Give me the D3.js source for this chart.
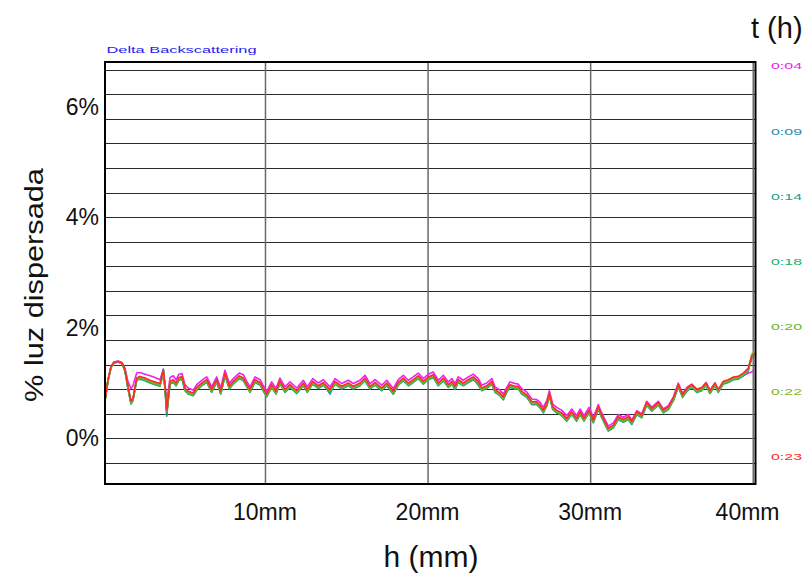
<!DOCTYPE html>
<html>
<head>
<meta charset="utf-8">
<script src="https://cdn.jsdelivr.net/npm/d3@7"></script>
<style>
  body { margin: 0; background: #fff; }
  svg { display: block; font-family: Arial, "Liberation Sans", sans-serif; }
</style>
</head>
<body>
<svg id="chart" width="808" height="574"></svg>
<script>
// Sample height along the tube (mm)
const hMm = [
  0.16,0.34,0.53,0.71,0.96,1.21,1.39,1.57,1.76,1.88,
  2.11,2.31,2.62,2.93,3.24,3.54,3.75,3.85,3.96,4.07,
  4.16,4.36,4.53,4.71,4.90,5.08,5.28,5.59,5.80,6.00,
  6.21,6.42,6.72,7.03,7.28,7.54,7.81,8.05,8.42,8.67,
  8.88,9.08,9.39,9.70,9.90,10.11,10.41,10.68,10.92,11.23,
  11.54,11.95,12.36,12.60,12.94,13.28,13.59,14.00,14.31,14.72,
  15.13,15.43,15.85,16.15,16.46,16.77,17.18,17.49,17.89,18.20,
  18.51,18.82,19.12,19.43,19.74,20.05,20.35,20.66,20.97,21.28,
  21.50,21.69,21.89,22.20,22.51,22.81,23.12,23.33,23.64,23.95,
  24.15,24.46,24.66,24.87,25.07,25.38,25.58,25.79,26.10,26.41,
  26.71,26.92,27.12,27.33,27.49,27.70,27.94,28.25,28.56,28.87,
  29.17,29.38,29.62,29.93,30.20,30.50,30.67,30.91,31.12,31.43,
  31.73,32.04,32.35,32.56,32.87,33.17,33.48,33.79,34.19,34.50,
  34.81,35.12,35.42,35.69,35.98,36.25,36.56,36.86,37.13,37.37,
  37.68,37.88,38.19,38.50,38.81,39.11,39.42,39.73,39.94,40.08
];

// Delta backscattering (%) for each scan time
const bs0004 = [
  0.69,1.05,1.30,1.38,1.40,1.37,1.27,1.03,0.90,0.95,
  1.18,1.19,1.16,1.13,1.10,1.06,1.25,0.99,0.68,0.90,
  1.10,1.13,1.06,1.16,1.17,0.97,0.91,0.87,0.97,1.02,
  1.07,1.11,0.93,1.11,0.91,1.23,0.99,1.08,1.18,1.15,
  1.03,0.93,1.11,1.06,0.95,0.85,1.02,0.90,1.09,0.93,
  1.02,0.91,1.05,0.93,1.08,1.00,1.06,0.93,1.08,0.99,
  1.05,0.99,1.05,1.14,0.99,1.06,0.96,1.05,0.90,1.06,
  1.14,1.05,1.11,1.18,1.08,1.16,1.20,1.05,1.14,1.02,
  1.08,0.99,1.11,1.05,1.11,1.16,1.08,0.96,1.00,1.08,
  0.93,0.87,0.80,0.92,1.02,0.99,0.98,0.90,0.84,0.71,
  0.70,0.65,0.56,0.68,0.86,0.62,0.56,0.51,0.41,0.53,
  0.41,0.53,0.41,0.56,0.38,0.61,0.49,0.34,0.22,0.28,
  0.43,0.38,0.43,0.33,0.50,0.44,0.67,0.56,0.67,0.53,
  0.59,0.75,1.00,0.81,0.93,0.98,0.89,0.92,1.01,0.87,
  1.00,0.88,1.02,1.04,1.07,1.08,1.13,1.18,1.20,1.24
];
const bs0009 = [
  0.69,1.04,1.29,1.37,1.39,1.36,1.25,0.92,0.64,0.70,
  1.06,1.09,1.07,1.03,1.00,0.97,1.25,0.90,0.40,0.74,
  0.99,1.03,0.96,1.07,1.09,0.87,0.81,0.79,0.89,0.94,
  0.99,1.03,0.85,1.03,0.82,1.15,0.91,1.00,1.10,1.06,
  0.95,0.85,1.03,0.98,0.87,0.77,0.94,0.82,1.01,0.85,
  0.94,0.82,0.97,0.85,1.00,0.92,0.98,0.80,1.00,0.91,
  0.97,0.91,0.97,1.06,0.91,0.98,0.88,0.97,0.80,0.98,
  1.06,0.97,1.05,1.10,1.00,1.08,1.12,0.97,1.06,0.94,
  1.00,0.91,1.03,0.97,1.03,1.08,0.96,0.88,0.92,1.00,
  0.85,0.79,0.72,0.85,0.94,0.91,0.91,0.82,0.76,0.62,
  0.63,0.57,0.48,0.60,0.79,0.54,0.48,0.43,0.33,0.45,
  0.33,0.45,0.33,0.48,0.30,0.54,0.42,0.27,0.15,0.21,
  0.36,0.31,0.36,0.26,0.45,0.39,0.62,0.51,0.62,0.48,
  0.54,0.70,0.94,0.76,0.88,0.94,0.85,0.88,0.97,0.82,
  0.97,0.85,1.00,1.03,1.08,1.09,1.15,1.25,1.45,1.50
];
const bs0014 = [
  0.68,1.03,1.28,1.36,1.38,1.35,1.22,0.90,0.62,0.68,
  1.05,1.07,1.04,1.00,0.97,0.94,1.18,0.90,0.45,0.75,
  0.98,1.01,0.95,1.05,1.07,0.86,0.80,0.77,0.87,0.92,
  0.97,1.01,0.83,1.01,0.80,1.13,0.89,0.98,1.08,1.04,
  0.93,0.83,1.01,0.96,0.85,0.75,0.92,0.80,0.99,0.83,
  0.92,0.81,0.95,0.83,0.98,0.90,0.96,0.83,0.98,0.89,
  0.95,0.89,0.95,1.04,0.89,0.96,0.86,0.95,0.80,0.96,
  1.04,0.95,1.01,1.08,0.98,1.06,1.10,0.95,1.04,0.92,
  0.98,0.88,1.01,0.95,1.01,1.06,0.98,0.86,0.90,0.98,
  0.83,0.77,0.70,0.83,0.92,0.89,0.89,0.80,0.74,0.61,
  0.61,0.55,0.46,0.58,0.77,0.52,0.46,0.41,0.31,0.43,
  0.31,0.43,0.31,0.46,0.28,0.52,0.40,0.25,0.13,0.19,
  0.34,0.29,0.34,0.25,0.43,0.37,0.60,0.49,0.60,0.46,
  0.52,0.68,0.92,0.74,0.86,0.92,0.83,0.86,0.95,0.81,
  0.95,0.83,0.98,1.01,1.06,1.07,1.13,1.22,1.46,1.52
];
const bs0018 = [
  0.68,1.04,1.29,1.37,1.38,1.35,1.22,0.91,0.63,0.69,
  1.06,1.08,1.05,1.01,0.98,0.95,1.17,0.91,0.48,0.77,
  0.99,1.02,0.96,1.06,1.08,0.87,0.81,0.78,0.88,0.93,
  0.98,1.02,0.84,1.02,0.81,1.14,0.90,0.99,1.09,1.05,
  0.94,0.84,1.02,0.97,0.86,0.76,0.93,0.81,1.00,0.84,
  0.93,0.82,0.96,0.84,0.99,0.91,0.97,0.84,0.99,0.90,
  0.96,0.90,0.96,1.05,0.90,0.97,0.87,0.96,0.81,0.97,
  1.05,0.96,1.02,1.09,0.99,1.07,1.11,0.96,1.05,0.93,
  0.99,0.89,1.02,0.96,1.02,1.07,0.99,0.87,0.91,0.99,
  0.84,0.78,0.70,0.84,0.93,0.90,0.90,0.81,0.75,0.62,
  0.62,0.56,0.47,0.59,0.78,0.53,0.47,0.42,0.32,0.44,
  0.32,0.44,0.32,0.47,0.29,0.53,0.41,0.26,0.14,0.20,
  0.35,0.30,0.35,0.26,0.44,0.38,0.61,0.50,0.61,0.47,
  0.53,0.69,0.93,0.75,0.87,0.93,0.84,0.87,0.96,0.82,
  0.96,0.84,0.99,1.02,1.07,1.08,1.14,1.23,1.47,1.53
];
const bs0020 = [
  0.68,1.03,1.28,1.36,1.38,1.35,1.22,0.92,0.64,0.70,
  1.06,1.09,1.06,1.02,0.99,0.96,1.19,0.92,0.49,0.78,
  1.00,1.03,0.97,1.07,1.09,0.88,0.82,0.79,0.89,0.94,
  0.99,1.03,0.85,1.03,0.82,1.15,0.91,1.00,1.10,1.06,
  0.95,0.85,1.03,0.98,0.87,0.77,0.94,0.82,1.01,0.85,
  0.94,0.83,0.97,0.85,1.00,0.92,0.98,0.85,1.00,0.91,
  0.97,0.91,0.97,1.06,0.91,0.98,0.88,0.97,0.82,0.98,
  1.06,0.97,1.03,1.10,1.00,1.08,1.12,0.97,1.06,0.94,
  1.00,0.91,1.03,0.97,1.03,1.08,1.00,0.88,0.92,1.00,
  0.85,0.79,0.72,0.85,0.94,0.91,0.91,0.82,0.76,0.63,
  0.63,0.57,0.48,0.60,0.79,0.54,0.48,0.43,0.33,0.45,
  0.33,0.45,0.33,0.48,0.30,0.54,0.42,0.27,0.15,0.21,
  0.36,0.31,0.36,0.27,0.45,0.39,0.62,0.51,0.62,0.48,
  0.54,0.70,0.94,0.76,0.88,0.94,0.85,0.88,0.97,0.83,
  0.97,0.85,1.00,1.03,1.08,1.09,1.15,1.25,1.50,1.56
];
const bs0022 = [
  0.69,1.04,1.29,1.36,1.38,1.36,1.23,0.94,0.66,0.71,
  1.08,1.11,1.08,1.04,1.01,0.98,1.20,0.94,0.50,0.79,
  1.02,1.05,0.99,1.09,1.11,0.90,0.84,0.81,0.91,0.96,
  1.01,1.05,0.87,1.05,0.84,1.17,0.93,1.02,1.12,1.08,
  0.97,0.87,1.05,1.00,0.89,0.79,0.96,0.84,1.03,0.87,
  0.96,0.85,0.99,0.87,1.02,0.94,1.00,0.87,1.02,0.93,
  0.99,0.93,0.99,1.08,0.93,1.00,0.90,0.99,0.84,1.00,
  1.08,0.99,1.05,1.12,1.02,1.10,1.14,0.99,1.08,0.96,
  1.02,0.93,1.05,0.99,1.05,1.10,1.02,0.90,0.94,1.02,
  0.87,0.81,0.74,0.87,0.96,0.93,0.93,0.84,0.78,0.65,
  0.65,0.59,0.50,0.62,0.81,0.56,0.50,0.45,0.35,0.47,
  0.35,0.47,0.35,0.50,0.32,0.56,0.44,0.29,0.17,0.23,
  0.38,0.33,0.38,0.29,0.47,0.41,0.64,0.53,0.64,0.50,
  0.56,0.72,0.96,0.78,0.90,0.96,0.87,0.90,0.99,0.85,
  0.99,0.87,1.02,1.05,1.10,1.11,1.17,1.26,1.52,1.57
];
const bs0023 = [
  0.69,1.05,1.30,1.37,1.39,1.36,1.24,0.95,0.67,0.72,
  1.09,1.12,1.09,1.05,1.02,0.99,1.22,0.95,0.51,0.80,
  1.03,1.06,1.00,1.10,1.12,0.91,0.85,0.82,0.92,0.97,
  1.02,1.06,0.88,1.06,0.85,1.18,0.94,1.03,1.13,1.09,
  0.98,0.88,1.06,1.01,0.90,0.80,0.97,0.85,1.04,0.88,
  0.97,0.86,1.00,0.88,1.03,0.95,1.01,0.88,1.03,0.94,
  1.00,0.94,1.00,1.09,0.94,1.01,0.91,1.00,0.85,1.01,
  1.09,1.00,1.06,1.13,1.03,1.11,1.15,1.00,1.09,0.97,
  1.03,0.94,1.06,1.00,1.06,1.11,1.03,0.91,0.95,1.03,
  0.88,0.82,0.75,0.88,0.97,0.94,0.94,0.85,0.79,0.66,
  0.66,0.60,0.51,0.63,0.82,0.57,0.51,0.46,0.36,0.48,
  0.36,0.48,0.36,0.51,0.33,0.57,0.45,0.30,0.18,0.24,
  0.39,0.34,0.39,0.30,0.48,0.42,0.65,0.54,0.65,0.51,
  0.57,0.73,0.97,0.79,0.91,0.97,0.88,0.91,1.00,0.86,
  1.00,0.88,1.03,1.06,1.11,1.12,1.18,1.27,1.48,1.54
];

const scanTimes = ["0:04", "0:09", "0:14", "0:18", "0:20", "0:22", "0:23"];
const scanColors = ["#ee22ee", "#2a8ca6", "#20a088", "#22ae68", "#62b82a", "#88b62a", "#ff2a2a"];
const scanValues = [bs0004, bs0009, bs0014, bs0018, bs0020, bs0022, bs0023];

const yTickValues = [0, 2, 4, 6];
const yTickLabels = ["0%", "2%", "4%", "6%"];
const xTickValues = [10, 20, 30, 40];
const xTickLabels = ["10mm", "20mm", "30mm", "40mm"];

// Layout
const plot = { left: 105, right: 755.5, top: 62, bottom: 484 };
const svg = d3.select("#chart");

const x = d3.scaleLinear().domain([0.16, 40.17]).range([plot.left, plot.right]);
const y = d3.scaleLinear().domain([-0.826, 6.805]).range([plot.bottom, plot.top]);

// Widen a text element horizontally so that it spans the given width
function stretchTo(sel, width, tx, ty, rotate) {
  const w = sel.node().getComputedTextLength();
  const s = width / w;
  sel.attr("transform", `translate(${tx},${ty})${rotate ? ` rotate(${rotate})` : ""} scale(${s},1)`);
}

// Horizontal grid: instrument divisions of 4/9 %
const hGrid = d3.range(-1, 16).map(k => k * 4 / 9);
svg.append("g")
  .attr("transform", `translate(${plot.left},0)`)
  .call(d3.axisLeft(y).tickValues(hGrid).tickSize(-(plot.right - plot.left)).tickFormat(""))
  .call(g => g.select(".domain").remove())
  .call(g => g.selectAll(".tick line").attr("stroke", "#2a2a2a").attr("stroke-width", 1).attr("shape-rendering", "crispEdges"));

// Vertical grid
svg.append("g")
  .attr("transform", `translate(0,${plot.bottom})`)
  .call(d3.axisBottom(x).tickValues(xTickValues).tickSize(-(plot.bottom - plot.top)).tickFormat(""))
  .call(g => g.select(".domain").remove())
  .call(g => g.selectAll(".tick line").attr("stroke", "#6a6a6a").attr("stroke-width", 1.5));

// Clip for the curves
svg.append("clipPath").attr("id", "plotClip")
  .append("rect")
  .attr("x", plot.left).attr("y", plot.top)
  .attr("width", plot.right - plot.left).attr("height", plot.bottom - plot.top);

const line = d3.line()
  .x((d, i) => x(hMm[i]))
  .y(d => y(d));

const curves = svg.append("g").attr("clip-path", "url(#plotClip)");
scanValues.forEach((vals, i) => {
  curves.append("path")
    .datum(vals)
    .attr("fill", "none")
    .attr("stroke", scanColors[i])
    .attr("stroke-width", 1.6)
    .attr("stroke-linejoin", "round")
    .attr("d", line);
});

// Frame
svg.append("rect")
  .attr("x", plot.left).attr("y", plot.top)
  .attr("width", plot.right - plot.left).attr("height", plot.bottom - plot.top)
  .attr("fill", "none").attr("stroke", "#000").attr("stroke-width", 2);

// Y tick labels
svg.append("g").selectAll("text")
  .data(yTickValues)
  .join("text")
  .attr("x", plot.left - 6)
  .attr("y", d => y(d))
  .attr("dy", "0.35em")
  .attr("text-anchor", "end")
  .attr("font-size", 23)
  .attr("fill", "#111")
  .text((d, i) => yTickLabels[i]);

// X tick labels (the last one is kept clear of the right edge)
svg.append("g").selectAll("text")
  .data(xTickValues)
  .join("text")
  .attr("x", (d, i) => i === xTickValues.length - 1 ? plot.right + 24 : x(d))
  .attr("y", 520)
  .attr("text-anchor", (d, i) => i === xTickValues.length - 1 ? "end" : "middle")
  .attr("font-size", 23)
  .attr("fill", "#111")
  .text((d, i) => xTickLabels[i]);

// Axis titles
svg.append("text")
  .attr("x", 431).attr("y", 567)
  .attr("text-anchor", "middle")
  .attr("font-size", 30)
  .attr("fill", "#111")
  .text("h (mm)");

const yTitle = svg.append("text")
  .attr("text-anchor", "middle")
  .attr("font-size", 25)
  .attr("fill", "#111")
  .text("% luz dispersada");
stretchTo(yTitle, 234, 43, 285, -90);

svg.append("text")
  .attr("x", 751).attr("y", 38)
  .attr("font-size", 29)
  .attr("fill", "#111")
  .text("t (h)");

const panelTitle = svg.append("text")
  .attr("font-size", 8.6)
  .attr("fill", "#2222ee")
  .text("Delta Backscattering");
stretchTo(panelTitle, 150, 106.5, 52.5);

// Scan-time legend on the right
const legendY = d3.scalePoint().domain(scanTimes).range([66, 456.7]);
svg.append("g").selectAll("text")
  .data(scanTimes)
  .join("text")
  .attr("dy", "0.35em")
  .attr("font-size", 9.8)
  .attr("fill", (d, i) => scanColors[i])
  .text(d => d)
  .each(function (d) { stretchTo(d3.select(this), 31, 771, legendY(d)); });
</script>
</body>
</html>
